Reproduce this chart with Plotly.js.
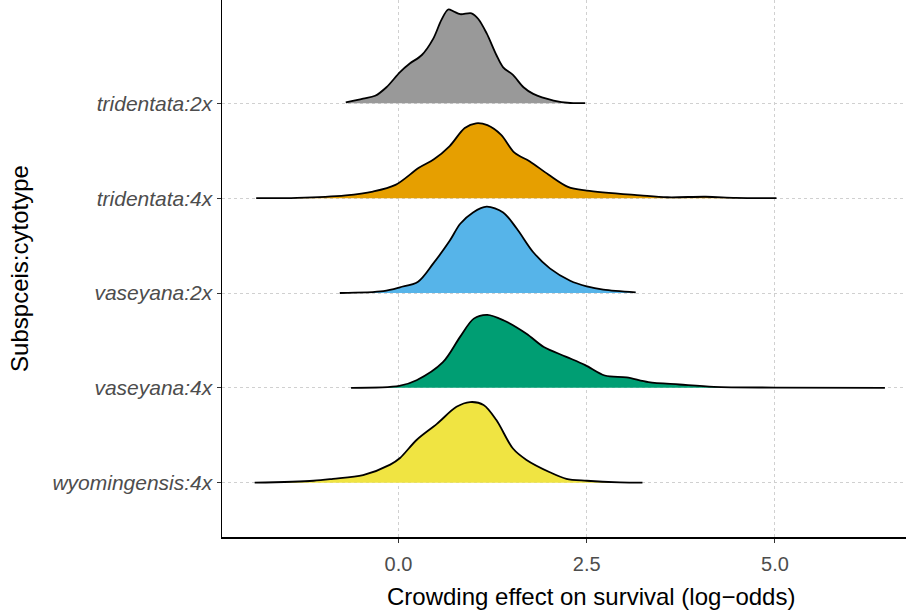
<!DOCTYPE html>
<html>
<head>
<meta charset="utf-8">
<script src="https://cdn.plot.ly/plotly-3.0.1.min.js"></script>
<style>
  html, body { margin: 0; padding: 0; background: #ffffff; }
  #chart { width: 906px; height: 611px; }
</style>
</head>
<body>
<div id="chart"></div>
<script>
// Categories (bottom to top) and tick labels
const categories = ["wyomingensis:4x", "vaseyana:4x", "vaseyana:2x", "tridentata:4x", "tridentata:2x"];
const xTickVals = [0, 2.5, 5];
const xTickText = ["0.0", "2.5", "5.0"];

// Ridge density curves (x = log-odds, h = scaled density height)
const wyo4x_x = [-1.91, -1.13, -0.87, -0.47, -0.11, 0.02, 0.24, 0.51, 0.77, 0.95, 1.13, 1.30, 1.52, 1.70, 2.01, 2.23, 2.50, 2.94, 3.24];
const wyo4x_h = [0.0, 0.02, 0.04, 0.08, 0.19, 0.26, 0.45, 0.62, 0.80, 0.85, 0.82, 0.66, 0.36, 0.24, 0.11, 0.04, 0.02, 0.003, 0.0];

const vas4x_x = [-0.63, 0.01, 0.24, 0.59, 0.82, 1.00, 1.18, 1.40, 1.70, 1.93, 2.22, 2.48, 2.74, 3.03, 3.32, 3.73, 4.19, 5.01, 6.46];
const vas4x_h = [0.0, 0.02, 0.08, 0.27, 0.54, 0.73, 0.77, 0.71, 0.57, 0.43, 0.33, 0.24, 0.13, 0.11, 0.06, 0.035, 0.01, 0.003, 0.0];

const vas2x_x = [-0.78, -0.20, 0.02, 0.26, 0.46, 0.68, 0.82, 0.99, 1.17, 1.39, 1.57, 1.79, 2.01, 2.28, 2.50, 2.72, 3.15];
const vas2x_h = [0.0, 0.02, 0.06, 0.12, 0.31, 0.55, 0.73, 0.85, 0.91, 0.85, 0.68, 0.43, 0.26, 0.13, 0.07, 0.035, 0.007];

const tri4x_x = [-1.89, -1.35, -0.70, -0.34, -0.04, 0.27, 0.47, 0.68, 0.88, 1.03, 1.18, 1.36, 1.54, 1.74, 1.99, 2.25, 2.50, 3.21, 3.57, 4.08, 4.48, 5.02];
const tri4x_h = [0.0, 0.003, 0.03, 0.07, 0.14, 0.32, 0.41, 0.55, 0.74, 0.79, 0.77, 0.67, 0.48, 0.39, 0.25, 0.12, 0.08, 0.03, 0.01, 0.015, 0.003, 0.0];

const tri2x_x = [-0.70, -0.47, -0.31, -0.16, 0.02, 0.15, 0.31, 0.46, 0.57, 0.66, 0.73, 0.82, 0.97, 1.06, 1.17, 1.30, 1.39, 1.52, 1.66, 1.79, 2.06, 2.28, 2.48];
const tri2x_h = [0.01, 0.05, 0.08, 0.17, 0.33, 0.42, 0.51, 0.68, 0.88, 0.99, 0.97, 0.94, 0.95, 0.89, 0.74, 0.51, 0.38, 0.30, 0.17, 0.10, 0.03, 0.004, 0.003];

const seriesX = [wyo4x_x, vas4x_x, vas2x_x, tri4x_x, tri2x_x];
const seriesH = [wyo4x_h, vas4x_h, vas2x_h, tri4x_h, tri2x_h];
const fillColors = ["#F0E442", "#009E73", "#56B4E9", "#E69F00", "#999999"];

const traces = [];
// draw top ridge first so lower ridges overlay
for (let i = categories.length - 1; i >= 0; i--) {
  const base = i + 1;
  const xs = seriesX[i];
  const hs = seriesH[i];
  traces.push({
    type: "scatter", mode: "lines",
    x: [xs[0], xs[xs.length - 1]],
    y: [base, base],
    line: { width: 0, color: "rgba(0,0,0,0)" },
    hoverinfo: "skip", showlegend: false
  });
  traces.push({
    type: "scatter", mode: "lines",
    x: xs,
    y: hs.map(h => base + h),
    fill: "tonexty",
    fillcolor: fillColors[i],
    line: { color: "#000000", width: 1.8, shape: "spline", smoothing: 0.9 },
    name: categories[i], showlegend: false
  });
}

const layout = {
  width: 906, height: 611,
  margin: { l: 222, r: 0, t: 0, b: 74 },
  paper_bgcolor: "#ffffff", plot_bgcolor: "#ffffff",
  showlegend: false,
  font: { family: "Liberation Sans, Arial, sans-serif" },
  xaxis: {
    range: [-2.344, 6.74],
    tickvals: xTickVals, ticktext: xTickText,
    tickfont: { size: 20, color: "#4D4D4D" },
    ticks: "outside", ticklen: 4, tickwidth: 1, tickcolor: "#333333",
    ticklabelstandoff: 4,
    showline: true, linecolor: "#000000", linewidth: 1.5,
    showgrid: true, gridcolor: "#D0D0D0", gridwidth: 1, griddash: "3px,3px",
    zeroline: false,
    title: { text: "" }
  },
  yaxis: {
    range: [0.427, 6.09],
    tickvals: [1, 2, 3, 4, 5],
    ticktext: categories.map(c => "<i>" + c + "</i>"),
    tickfont: { size: 21, color: "#4D4D4D" },
    ticks: "outside", ticklen: 4, tickwidth: 1, tickcolor: "#333333",
    showline: true, linecolor: "#000000", linewidth: 1.5,
    showgrid: true, gridcolor: "#D0D0D0", gridwidth: 1, griddash: "3px,3px",
    zeroline: false,
    title: { text: "Subspceis:cytotype", font: { size: 24, color: "#000000" }, standoff: 17 }
  },
  annotations: [{
    text: "Crowding effect on survival (log\u2212odds)",
    xref: "paper", yref: "paper",
    x: 0.5395, y: -0.1117, xanchor: "center", yanchor: "middle",
    showarrow: false,
    font: { size: 24, color: "#000000", family: "Liberation Sans, Arial, sans-serif" }
  }]
};

Plotly.newPlot("chart", traces, layout, { displayModeBar: false, staticPlot: true });
</script>
</body>
</html>
